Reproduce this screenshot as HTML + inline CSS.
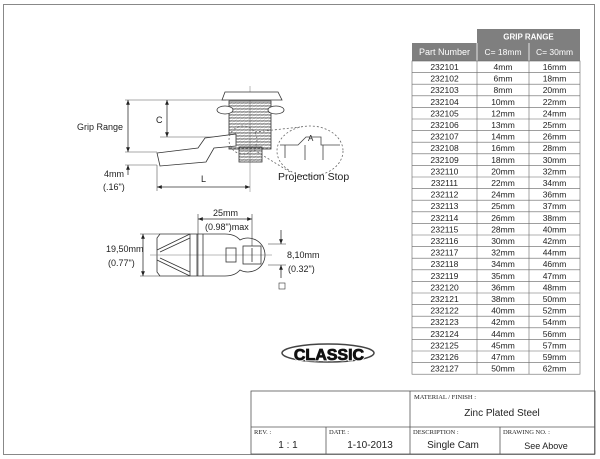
<!DOCTYPE html>
<html><head><meta charset="utf-8"><style>
body{margin:0;background:#fff;}
svg{display:block;font-family:"Liberation Sans",sans-serif;}
</style></head><body>
<svg width="600" height="459" viewBox="0 0 600 459" xmlns="http://www.w3.org/2000/svg">
<defs>
<marker id="ar" viewBox="0 0 10 10" refX="10" refY="5" markerWidth="6" markerHeight="6" orient="auto-start-reverse"><path d="M0,1 L10,5 L0,9 z" fill="#222"/></marker>
<pattern id="th" width="4" height="3" patternUnits="userSpaceOnUse"><path d="M0,0.5 H4 M0,2 L4,1" stroke="#555" stroke-width="0.6"/></pattern>
</defs>
<rect x="3.5" y="4.5" width="591" height="450" fill="none" stroke="#888" stroke-width="1"/>

<!-- side view -->
<g stroke="#333" stroke-width="0.8" fill="none">
<line x1="250" y1="86" x2="250" y2="192" stroke="#777" stroke-width="0.5"/>
<line x1="125" y1="100" x2="226" y2="100" stroke="#555" stroke-width="0.6"/>
<line x1="160" y1="137" x2="232" y2="137" stroke="#555" stroke-width="0.6"/>
<line x1="125" y1="152" x2="157" y2="152" stroke="#555" stroke-width="0.6"/>
<line x1="125" y1="165" x2="157" y2="165" stroke="#555" stroke-width="0.6"/>
<path d="M222,100 L225,92 L278,92 L282,100 Z" fill="#fff"/>
<rect x="229" y="101" width="42" height="48" fill="url(#th)"/>
<ellipse cx="225" cy="110" rx="8" ry="4" fill="#fff"/>
<ellipse cx="276" cy="110" rx="8" ry="4" fill="#fff"/>
<rect x="239" y="147" width="23" height="15" fill="url(#th)"/>
<path d="M157,153 L198,148 L205,138 L236,134 L236,146 L214,148 L206,162 L160,166 Z" fill="#fff"/>
<circle cx="243" cy="140" r="14" stroke-dasharray="2,2" stroke="#666"/>
<ellipse cx="310" cy="151" rx="33" ry="25" stroke-dasharray="2,2" stroke="#666"/>
<line x1="255" y1="132" x2="300" y2="127" stroke-dasharray="2,2" stroke="#666"/>
<line x1="254" y1="150" x2="290" y2="172" stroke-dasharray="2,2" stroke="#666"/>
<path d="M280,145 L298,145 L306,137 L321,137 L321,145 L340,145 M285,145 V158 M305,145 V160 M323,145 V160" stroke="#444"/>
<line x1="128" y1="100" x2="128" y2="152" marker-start="url(#ar)" marker-end="url(#ar)"/>
<line x1="167" y1="100" x2="167" y2="137" marker-start="url(#ar)" marker-end="url(#ar)"/>
<line x1="128" y1="175" x2="128" y2="165" marker-end="url(#ar)"/>
<line x1="157" y1="165" x2="157" y2="191" stroke="#555" stroke-width="0.6"/>
<line x1="157" y1="187" x2="250" y2="187" marker-start="url(#ar)" marker-end="url(#ar)"/>
</g>
<g font-size="9" fill="#222">
<text x="77" y="130">Grip Range</text>
<text x="156" y="123">C</text>
<text x="104" y="177">4mm</text>
<text x="103" y="190">(.16")</text>
<text x="201" y="182">L</text>
<text x="308" y="141" font-size="8">A</text>
<text x="278" y="180" font-size="10.5">Projection Stop</text>
</g>

<!-- bottom view -->
<g stroke="#333" stroke-width="0.8" fill="none">
<path d="M160,234 L225,234 Q235,234 240,240 A17,17 0 1 1 240,270 Q235,276 225,276 L160,276 L157,272 L157,238 Z" fill="#fff"/>
<line x1="150" y1="255" x2="272" y2="255" stroke="#777" stroke-width="0.5"/>
<line x1="190" y1="234" x2="190" y2="276"/><line x1="197" y1="234" x2="197" y2="276"/><line x1="203" y1="234" x2="203" y2="276"/>
<path d="M157,250 L190,234 M157,260 L190,276 M160,252 L190,238 M160,258 L190,272"/>
<rect x="226" y="248" width="10" height="14"/>
<rect x="243" y="246" width="18" height="18"/>
<line x1="252" y1="248" x2="252" y2="262"/>
<line x1="198" y1="214" x2="198" y2="276" stroke-width="0.6"/>
<line x1="252" y1="214" x2="252" y2="246" stroke-width="0.6"/>
<line x1="198" y1="219" x2="252" y2="219" marker-start="url(#ar)" marker-end="url(#ar)"/>
<line x1="140" y1="234" x2="160" y2="234" stroke-width="0.6"/>
<line x1="140" y1="276" x2="160" y2="276" stroke-width="0.6"/>
<line x1="143" y1="234" x2="143" y2="276" marker-start="url(#ar)" marker-end="url(#ar)"/>
<line x1="268" y1="244" x2="286" y2="244" stroke-width="0.6"/>
<line x1="268" y1="265" x2="286" y2="265" stroke-width="0.6"/>
<line x1="281" y1="230" x2="281" y2="244" marker-end="url(#ar)"/>
<line x1="281" y1="278" x2="281" y2="265" marker-end="url(#ar)"/>
<rect x="279" y="283" width="6" height="6" stroke-width="0.6"/>
</g>
<g font-size="9" fill="#222">
<text x="213" y="216">25mm</text>
<text x="205" y="230">(0.98")max</text>
<text x="106" y="252">19,50mm</text>
<text x="108" y="266">(0.77")</text>
<text x="287" y="258">8,10mm</text>
<text x="288" y="272">(0.32")</text>
</g>

<!-- logo -->
<ellipse cx="328" cy="353" rx="46" ry="9" fill="none" stroke="#444" stroke-width="1.5"/>
<text x="329" y="360" text-anchor="middle" font-size="16" font-weight="bold" fill="#111" stroke="#fff" stroke-width="2.5" paint-order="stroke">CLASSIC</text>
<text x="329" y="360" text-anchor="middle" font-size="16" font-weight="bold" fill="#111" stroke="#111" stroke-width="0.8">CLASSIC</text>

<!-- table -->
<g font-size="8.5" fill="#222">
<rect x="477" y="29" width="103" height="14" fill="#7f7f7f"/>
<text x="528.5" y="39.5" text-anchor="middle" fill="#fff" font-weight="bold" font-size="8">GRIP RANGE</text>
<rect x="412" y="43" width="168" height="18" fill="#7f7f7f"/>
<line x1="477" y1="43" x2="477" y2="61" stroke="#fff" stroke-width="0.8"/>
<line x1="529" y1="43" x2="529" y2="61" stroke="#fff" stroke-width="0.8"/>
<text x="444.5" y="55" text-anchor="middle" fill="#fff" font-size="9">Part Number</text>
<text x="503" y="55" text-anchor="middle" fill="#fff">C= 18mm</text>
<text x="554.5" y="55" text-anchor="middle" fill="#fff">C= 30mm</text>
<g stroke="#666" stroke-width="0.6">
<rect x="412" y="61" width="168" height="313.2" fill="none"/>
<line x1="477" y1="61" x2="477" y2="374.2"/><line x1="529" y1="61" x2="529" y2="374.2"/>
<path d="M412,72.6H580M412,84.2H580M412,95.8H580M412,107.4H580M412,119H580M412,130.6H580M412,142.2H580M412,153.8H580M412,165.4H580M412,177H580M412,188.6H580M412,200.2H580M412,211.8H580M412,223.4H580M412,235H580M412,246.6H580M412,258.2H580M412,269.8H580M412,281.4H580M412,293H580M412,304.6H580M412,316.2H580M412,327.8H580M412,339.4H580M412,351H580M412,362.6H580"/>
</g>
<g text-anchor="middle">
<text x="444.5" y="70">232101</text><text x="503" y="70">4mm</text><text x="554.5" y="70">16mm</text>
<text x="444.5" y="81.6">232102</text><text x="503" y="81.6">6mm</text><text x="554.5" y="81.6">18mm</text>
<text x="444.5" y="93.2">232103</text><text x="503" y="93.2">8mm</text><text x="554.5" y="93.2">20mm</text>
<text x="444.5" y="104.8">232104</text><text x="503" y="104.8">10mm</text><text x="554.5" y="104.8">22mm</text>
<text x="444.5" y="116.4">232105</text><text x="503" y="116.4">12mm</text><text x="554.5" y="116.4">24mm</text>
<text x="444.5" y="128">232106</text><text x="503" y="128">13mm</text><text x="554.5" y="128">25mm</text>
<text x="444.5" y="139.6">232107</text><text x="503" y="139.6">14mm</text><text x="554.5" y="139.6">26mm</text>
<text x="444.5" y="151.2">232108</text><text x="503" y="151.2">16mm</text><text x="554.5" y="151.2">28mm</text>
<text x="444.5" y="162.8">232109</text><text x="503" y="162.8">18mm</text><text x="554.5" y="162.8">30mm</text>
<text x="444.5" y="174.4">232110</text><text x="503" y="174.4">20mm</text><text x="554.5" y="174.4">32mm</text>
<text x="444.5" y="186">232111</text><text x="503" y="186">22mm</text><text x="554.5" y="186">34mm</text>
<text x="444.5" y="197.6">232112</text><text x="503" y="197.6">24mm</text><text x="554.5" y="197.6">36mm</text>
<text x="444.5" y="209.2">232113</text><text x="503" y="209.2">25mm</text><text x="554.5" y="209.2">37mm</text>
<text x="444.5" y="220.8">232114</text><text x="503" y="220.8">26mm</text><text x="554.5" y="220.8">38mm</text>
<text x="444.5" y="232.4">232115</text><text x="503" y="232.4">28mm</text><text x="554.5" y="232.4">40mm</text>
<text x="444.5" y="244">232116</text><text x="503" y="244">30mm</text><text x="554.5" y="244">42mm</text>
<text x="444.5" y="255.6">232117</text><text x="503" y="255.6">32mm</text><text x="554.5" y="255.6">44mm</text>
<text x="444.5" y="267.2">232118</text><text x="503" y="267.2">34mm</text><text x="554.5" y="267.2">46mm</text>
<text x="444.5" y="278.8">232119</text><text x="503" y="278.8">35mm</text><text x="554.5" y="278.8">47mm</text>
<text x="444.5" y="290.4">232120</text><text x="503" y="290.4">36mm</text><text x="554.5" y="290.4">48mm</text>
<text x="444.5" y="302">232121</text><text x="503" y="302">38mm</text><text x="554.5" y="302">50mm</text>
<text x="444.5" y="313.6">232122</text><text x="503" y="313.6">40mm</text><text x="554.5" y="313.6">52mm</text>
<text x="444.5" y="325.2">232123</text><text x="503" y="325.2">42mm</text><text x="554.5" y="325.2">54mm</text>
<text x="444.5" y="336.8">232124</text><text x="503" y="336.8">44mm</text><text x="554.5" y="336.8">56mm</text>
<text x="444.5" y="348.4">232125</text><text x="503" y="348.4">45mm</text><text x="554.5" y="348.4">57mm</text>
<text x="444.5" y="360">232126</text><text x="503" y="360">47mm</text><text x="554.5" y="360">59mm</text>
<text x="444.5" y="371.6">232127</text><text x="503" y="371.6">50mm</text><text x="554.5" y="371.6">62mm</text>
</g>
</g>

<!-- title block -->
<g stroke="#555" stroke-width="0.8" fill="none">
<rect x="251" y="391" width="344" height="63"/>
<line x1="251" y1="427" x2="595" y2="427"/>
<line x1="410" y1="391" x2="410" y2="454"/>
<line x1="326" y1="427" x2="326" y2="454"/>
<line x1="500" y1="427" x2="500" y2="454"/>
</g>
<g fill="#222">
<g font-family="Liberation Serif" font-size="6.5">
<text x="414" y="399">MATERIAL / FINISH :</text>
<text x="254" y="434">REV. :</text>
<text x="329" y="434">DATE :</text>
<text x="413" y="434">DESCRIPTION :</text>
<text x="503" y="434">DRAWING NO. :</text>
</g>
<text x="502" y="416" text-anchor="middle" font-size="10">Zinc Plated Steel</text>
<text x="288" y="448" text-anchor="middle" font-size="10">1 : 1</text>
<text x="370" y="448" text-anchor="middle" font-size="10">1-10-2013</text>
<text x="453" y="448" text-anchor="middle" font-size="10">Single Cam</text>
<text x="546" y="449" text-anchor="middle" font-size="9">See Above</text>
</g>
</svg>
</body></html>
